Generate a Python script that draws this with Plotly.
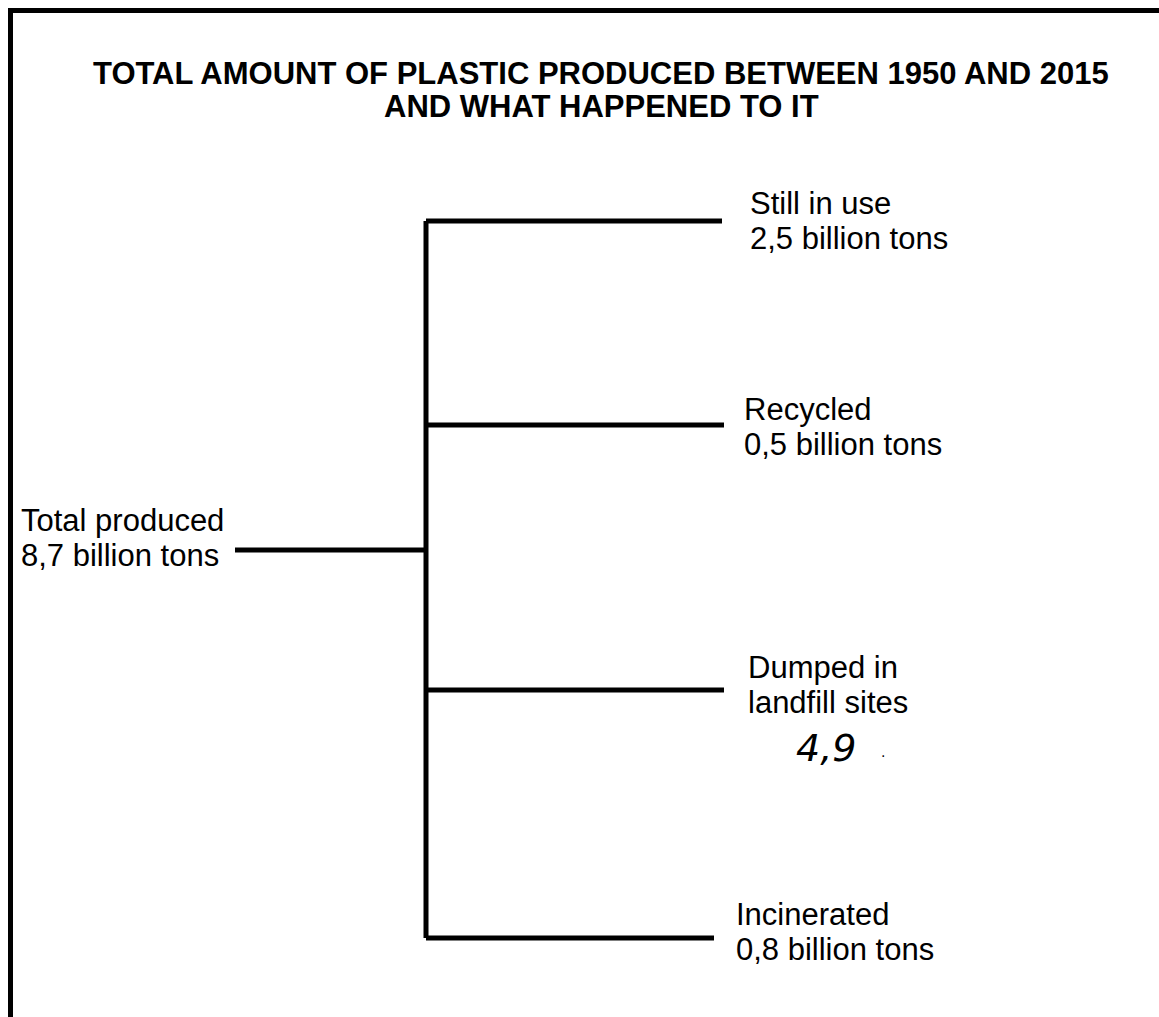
import plotly.graph_objects as go

# ---- data ----
title_lines = ["TOTAL AMOUNT OF PLASTIC PRODUCED BETWEEN 1950 AND 2015",
               "AND WHAT HAPPENED TO IT"]
root_label = ["Total produced", "8,7 billion tons"]
branch_labels = [
    ["Still in use", "2,5 billion tons"],
    ["Recycled", "0,5 billion tons"],
    ["Dumped in", "landfill sites"],
    ["Incinerated", "0,8 billion tons"],
]
handwritten_note = "4,9"

# ---- layout geometry (pixel coordinates) ----
W, H = 1159, 1017
trunk_x = 426
root_y = 550
root_x0 = 235
branch_y = [221, 425, 690, 938]
branch_x1 = [722, 724, 724, 714]
label_x = [748, 742, 746, 734]
label_y0 = [203, 409, 667, 914]
line_gap = 35
font_size = 31

fig = go.Figure()

# border (top and left)
fig.add_trace(go.Scatter(x=[10.5, 10.5, W + 5], y=[H + 5, 10.5, 10.5], mode="lines",
                         line=dict(color="black", width=5), hoverinfo="skip",
                         showlegend=False))

# tree lines
xs, ys = [root_x0, trunk_x, None, trunk_x, trunk_x, None], [root_y, root_y, None,
                                                            branch_y[0], branch_y[-1], None]
for by, bx in zip(branch_y, branch_x1):
    xs += [trunk_x, bx, None]
    ys += [by, by, None]
fig.add_trace(go.Scatter(x=xs, y=ys, mode="lines", line=dict(color="black", width=5),
                         hoverinfo="skip", showlegend=False))

ann = []
font = dict(family="Liberation Sans, Arial, sans-serif", size=font_size, color="black")
# title
for i, t in enumerate(title_lines):
    ann.append(dict(x=601, y=73 + i * 33, text=t, showarrow=False, xanchor="center",
                    yanchor="middle",
                    font=dict(family="Liberation Sans, Arial, sans-serif", size=31,
                              color="black", weight="bold")))
# root label
for i, t in enumerate(root_label):
    ann.append(dict(x=19, y=520 + i * line_gap, text=t, showarrow=False, xanchor="left",
                    yanchor="middle", font=font))
# branch labels
for lx, ly, lines in zip(label_x, label_y0, branch_labels):
    for i, t in enumerate(lines):
        ann.append(dict(x=lx, y=ly + i * line_gap, text=t, showarrow=False,
                        xanchor="left", yanchor="middle", font=font))
# handwritten value
ann.append(dict(x=826, y=748, text=handwritten_note, showarrow=False, xanchor="center",
                yanchor="middle",
                font=dict(family="DejaVu Sans, sans-serif", size=38, color="black",
                          style="italic")))
ann.append(dict(x=883, y=752, text=".", showarrow=False, xanchor="center",
                yanchor="middle", font=dict(family="DejaVu Sans", size=14, color="black")))

fig.update_layout(
    width=W, height=H, margin=dict(l=0, r=0, t=0, b=0),
    paper_bgcolor="white", plot_bgcolor="white",
    xaxis=dict(range=[0, W], visible=False, fixedrange=True),
    yaxis=dict(range=[H, 0], visible=False, fixedrange=True),
    annotations=ann, showlegend=False,
)

fig.write_html("out.html", config={"displayModeBar": False},
               post_script="document.body.style.margin='0px';")
